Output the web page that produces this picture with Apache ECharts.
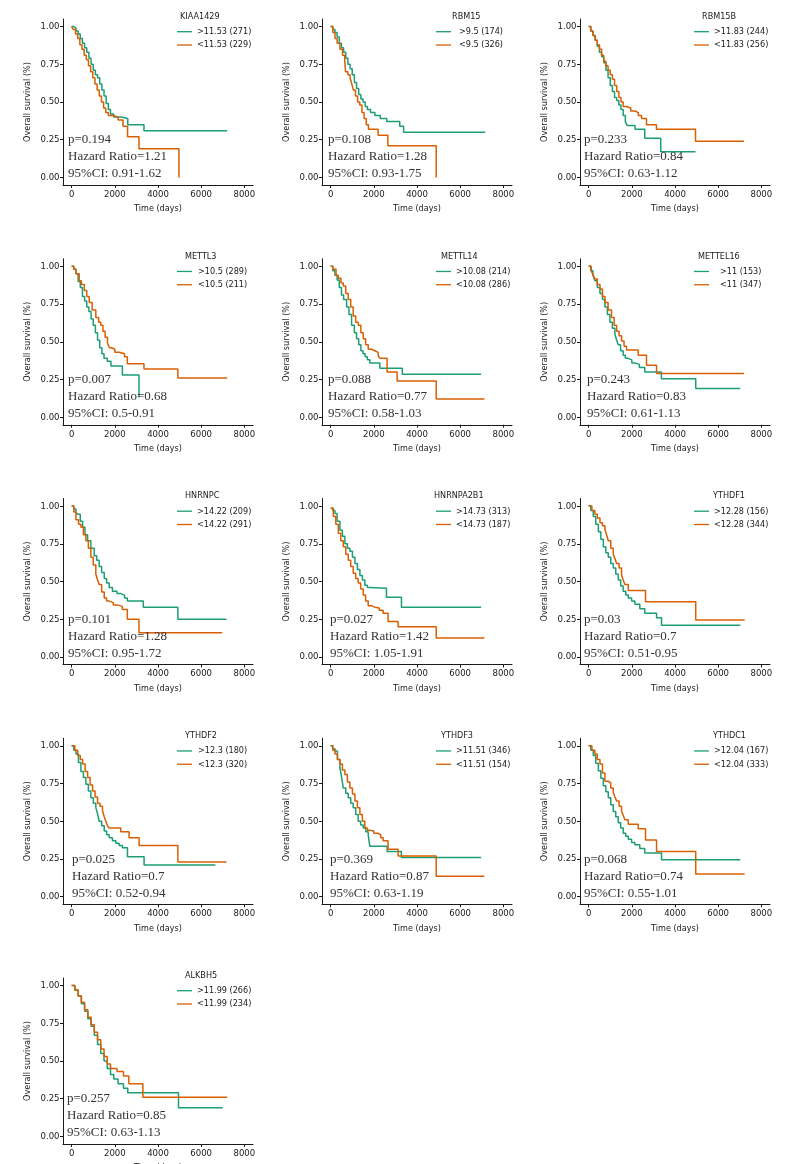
<!DOCTYPE html>
<html><head><meta charset="utf-8">
<script src="https://cdn.jsdelivr.net/npm/echarts@6/dist/echarts.min.js"></script>
<style>html,body{margin:0;padding:0;background:#fff}#c{width:792px;height:1164px}</style>
</head><body><div id="c"></div>
<script>
// ---------- DATA ----------
const genes = ['KIAA1429','RBM15','RBM15B','METTL3','METTL14','METTEL16','HNRNPC','HNRNPA2B1','YTHDF1','YTHDF2','YTHDF3','YTHDC1','ALKBH5'];
const highLabels = ['>11.53 (271)','>9.5 (174)','>11.83 (244)','>10.5 (289)','>10.08 (214)','>11 (153)','>14.22 (209)','>14.73 (313)','>12.28 (156)','>12.3 (180)','>11.51 (346)','>12.04 (167)','>11.99 (266)'];
const lowLabels = ['<11.53 (229)','<9.5 (326)','<11.83 (256)','<10.5 (211)','<10.08 (286)','<11 (347)','<14.22 (291)','<14.73 (187)','<12.28 (344)','<12.3 (320)','<11.51 (154)','<12.04 (333)','<11.99 (234)'];
const pValues = ['0.194','0.108','0.233','0.007','0.088','0.243','0.101','0.027','0.03','0.025','0.369','0.068','0.257'];
const hazardRatios = ['1.21','1.28','0.84','0.68','0.77','0.83','1.28','1.42','0.7','0.7','0.87','0.74','0.85'];
const ci95 = ['0.91-1.62','0.93-1.75','0.63-1.12','0.5-0.91','0.58-1.03','0.61-1.13','0.95-1.72','1.05-1.91','0.51-0.95','0.52-0.94','0.63-1.19','0.55-1.01','0.63-1.13'];
const xTicks = [0, 2000, 4000, 6000, 8000];
const yTicks = [0, 0.25, 0.5, 0.75, 1];

// survival curves [time (days), survival]
const kiaa1429Hi = [[0,1],[100,0.99],[200,0.97],[300,0.95],[400,0.92],[500,0.89],[600,0.86],[700,0.83],[800,0.79],[900,0.75],[1000,0.71],[1100,0.68],[1200,0.66],[1300,0.62],[1400,0.58],[1500,0.54],[1600,0.49],[1700,0.45],[1800,0.42],[1950,0.40],[2300,0.39],[2600,0.35],[3350,0.31],[7200,0.31]];
const kiaa1429Lo = [[0,1],[80,0.98],[180,0.95],[280,0.92],[380,0.88],[480,0.85],[580,0.81],[680,0.78],[780,0.74],[880,0.70],[980,0.66],[1080,0.62],[1180,0.58],[1280,0.54],[1380,0.50],[1480,0.46],[1580,0.43],[1700,0.41],[1900,0.40],[2150,0.38],[2380,0.34],[2590,0.27],[3120,0.19],[4970,0]];
const rbm15Hi = [[0,1],[100,0.98],[200,0.96],[300,0.93],[400,0.89],[500,0.86],[600,0.83],[700,0.79],[800,0.75],[900,0.72],[1000,0.68],[1100,0.63],[1200,0.59],[1300,0.55],[1400,0.52],[1500,0.50],[1600,0.47],[1700,0.45],[1850,0.43],[2050,0.41],[2300,0.39],[2600,0.37],[3200,0.34],[3380,0.30],[7170,0.30]];
const rbm15Lo = [[0,1],[100,0.96],[200,0.92],[300,0.89],[430,0.85],[550,0.81],[650,0.78],[690,0.70],[800,0.68],[900,0.66],[980,0.62],[1050,0.58],[1150,0.54],[1250,0.50],[1350,0.48],[1450,0.43],[1550,0.39],[1650,0.35],[1750,0.32],[2200,0.28],[2650,0.21],[4890,0]];
const rbm15bHi = [[0,1],[100,0.97],[200,0.94],[300,0.91],[400,0.87],[500,0.83],[600,0.80],[700,0.76],[800,0.71],[900,0.66],[1000,0.61],[1100,0.57],[1200,0.53],[1300,0.51],[1400,0.48],[1500,0.45],[1600,0.41],[1700,0.37],[1780,0.345],[2150,0.32],[2600,0.26],[3340,0.17],[4950,0.17]];
const rbm15bLo = [[0,1],[100,0.97],[200,0.94],[300,0.91],[400,0.88],[500,0.85],[600,0.81],[700,0.77],[800,0.74],[900,0.71],[1000,0.68],[1100,0.65],[1200,0.61],[1300,0.57],[1400,0.53],[1500,0.50],[1600,0.47],[1750,0.46],[1950,0.44],[2150,0.43],[2300,0.41],[2450,0.39],[2680,0.35],[3140,0.32],[4950,0.24],[7200,0.24]];
const mettl3Hi = [[0,1],[100,0.98],[200,0.95],[300,0.90],[400,0.86],[500,0.80],[600,0.77],[700,0.73],[800,0.70],[900,0.65],[1000,0.61],[1100,0.56],[1200,0.51],[1300,0.46],[1400,0.42],[1500,0.39],[1650,0.37],[1820,0.34],[2350,0.28],[3120,0.13]];
const mettl3Lo = [[0,1],[100,0.98],[200,0.95],[350,0.905],[450,0.88],[585,0.84],[700,0.80],[815,0.76],[950,0.71],[1120,0.66],[1250,0.63],[1350,0.61],[1450,0.57],[1550,0.53],[1660,0.49],[1750,0.46],[1850,0.45],[2000,0.43],[2200,0.42],[2450,0.40],[2580,0.355],[3350,0.32],[4920,0.26],[7200,0.26]];
const mettl14Hi = [[0,1],[100,0.97],[200,0.94],[300,0.91],[400,0.86],[500,0.81],[600,0.78],[740,0.73],[850,0.68],[970,0.61],[1100,0.56],[1200,0.52],[1300,0.48],[1400,0.44],[1500,0.42],[1600,0.40],[1700,0.38],[1815,0.36],[2280,0.325],[3320,0.285],[6970,0.285]];
const mettl14Lo = [[0,1],[100,0.98],[250,0.94],[350,0.92],[480,0.89],[585,0.87],[700,0.82],[815,0.78],[930,0.73],[1045,0.67],[1160,0.63],[1280,0.61],[1400,0.56],[1510,0.52],[1620,0.48],[1740,0.45],[1900,0.44],[2045,0.43],[2200,0.41],[2280,0.39],[2615,0.30],[3080,0.24],[4890,0.12],[7120,0.12]];
const mettl16Hi = [[0,1],[100,0.97],[200,0.94],[290,0.905],[400,0.86],[525,0.82],[640,0.78],[755,0.73],[870,0.68],[985,0.63],[1100,0.59],[1215,0.55],[1300,0.51],[1370,0.48],[1480,0.44],[1600,0.41],[1700,0.39],[1835,0.38],[2000,0.36],[2140,0.35],[2350,0.33],[2600,0.30],[3370,0.255],[4960,0.19],[7025,0.19]];
const mettl16Lo = [[0,1],[120,0.97],[200,0.945],[290,0.915],[400,0.88],[525,0.85],[640,0.80],[755,0.76],[900,0.71],[1060,0.66],[1180,0.61],[1295,0.57],[1410,0.54],[1525,0.505],[1640,0.47],[1755,0.445],[2295,0.41],[2680,0.345],[3145,0.29],[7200,0.29]];
const hnrnpcHi = [[0,1],[100,0.98],[200,0.96],[280,0.945],[400,0.90],[510,0.86],[620,0.81],[740,0.77],[890,0.72],[1045,0.67],[1160,0.64],[1275,0.60],[1390,0.56],[1510,0.52],[1620,0.49],[1740,0.46],[1890,0.435],[2100,0.42],[2275,0.41],[2450,0.39],[2580,0.37],[3320,0.33],[4920,0.25],[7170,0.25]];
const hnrnpcLo = [[0,1],[100,0.96],[200,0.91],[320,0.88],[430,0.86],[545,0.81],[660,0.77],[775,0.72],[890,0.66],[1000,0.61],[1120,0.55],[1200,0.51],[1275,0.48],[1390,0.43],[1510,0.39],[1620,0.37],[1740,0.36],[1930,0.345],[2120,0.335],[2350,0.315],[2580,0.25],[3120,0.16],[6970,0.16]];
const hnrnpa2b1Hi = [[0,0.985],[100,0.97],[200,0.95],[300,0.90],[430,0.84],[545,0.80],[660,0.75],[775,0.72],[890,0.70],[1010,0.66],[1125,0.62],[1240,0.58],[1355,0.54],[1470,0.51],[1585,0.475],[1700,0.46],[1815,0.455],[2585,0.395],[3280,0.33],[6970,0.33]];
const hnrnpa2b1Lo = [[0,0.985],[125,0.93],[240,0.88],[355,0.82],[470,0.77],[585,0.73],[700,0.68],[815,0.64],[930,0.60],[1045,0.555],[1160,0.52],[1275,0.49],[1390,0.45],[1510,0.41],[1620,0.37],[1740,0.34],[1900,0.33],[2045,0.325],[2250,0.31],[2430,0.29],[2660,0.235],[3125,0.20],[4890,0.125],[7120,0.125]];
const ythdf1Hi = [[0,1],[100,0.97],[215,0.93],[330,0.88],[450,0.83],[565,0.78],[680,0.73],[795,0.69],[910,0.66],[1025,0.62],[1140,0.59],[1255,0.55],[1370,0.51],[1485,0.47],[1600,0.435],[1720,0.41],[1835,0.39],[1990,0.37],[2140,0.35],[2370,0.32],[2600,0.29],[3145,0.26],[3375,0.21],[7025,0.21]];
const ythdf1Lo = [[0,1],[150,0.97],[290,0.945],[400,0.92],[525,0.89],[640,0.87],[755,0.845],[830,0.81],[910,0.77],[1025,0.72],[1140,0.68],[1220,0.65],[1295,0.62],[1410,0.59],[1525,0.545],[1600,0.51],[1680,0.48],[1835,0.44],[2635,0.365],[4960,0.245],[7225,0.245]];
const ythdf2Hi = [[0,1],[100,0.97],[200,0.945],[315,0.89],[430,0.83],[545,0.79],[660,0.745],[775,0.70],[890,0.655],[1005,0.62],[1120,0.59],[1200,0.55],[1275,0.50],[1390,0.47],[1510,0.435],[1620,0.41],[1740,0.39],[1890,0.37],[2045,0.355],[2200,0.34],[2350,0.325],[2585,0.265],[3355,0.21],[6660,0.21]];
const ythdf2Lo = [[0,1],[150,0.97],[280,0.935],[400,0.91],[510,0.88],[625,0.83],[740,0.79],[855,0.74],[970,0.70],[1085,0.66],[1200,0.62],[1315,0.60],[1430,0.57],[1510,0.53],[1585,0.50],[1660,0.47],[1740,0.455],[2275,0.43],[2660,0.39],[3125,0.34],[4920,0.23],[7170,0.23]];
const ythdf3Hi = [[0,1],[100,0.98],[200,0.965],[315,0.91],[430,0.855],[510,0.79],[585,0.72],[700,0.685],[815,0.655],[930,0.62],[1045,0.59],[1160,0.545],[1275,0.50],[1390,0.475],[1510,0.455],[1625,0.43],[1740,0.41],[1815,0.335],[2615,0.30],[3275,0.26],[6970,0.26]];
const ythdf3Lo = [[0,1],[100,0.97],[200,0.945],[315,0.91],[430,0.88],[545,0.84],[660,0.81],[775,0.76],[890,0.72],[1010,0.68],[1125,0.635],[1240,0.59],[1355,0.545],[1470,0.50],[1585,0.455],[1700,0.44],[1815,0.435],[2000,0.42],[2200,0.41],[2320,0.39],[2430,0.37],[2660,0.315],[3125,0.27],[4890,0.135],[7120,0.135]];
const ythdc1Hi = [[0,1],[100,0.97],[215,0.935],[330,0.885],[450,0.835],[565,0.785],[680,0.735],[795,0.695],[910,0.655],[1025,0.61],[1140,0.565],[1255,0.53],[1370,0.49],[1485,0.455],[1600,0.42],[1720,0.40],[1835,0.38],[1990,0.36],[2140,0.345],[2370,0.32],[2600,0.29],[3375,0.245],[7025,0.245]];
const ythdc1Lo = [[0,1],[150,0.97],[290,0.945],[400,0.91],[525,0.88],[640,0.82],[755,0.765],[910,0.755],[1025,0.72],[1140,0.69],[1220,0.66],[1295,0.635],[1410,0.60],[1525,0.565],[1600,0.54],[1680,0.51],[1835,0.48],[2295,0.45],[2635,0.375],[3145,0.30],[4960,0.15],[7225,0.15]];
const alkbh5Hi = [[0,1],[150,0.97],[300,0.93],[450,0.88],[600,0.83],[750,0.78],[900,0.73],[1050,0.67],[1200,0.61],[1350,0.55],[1500,0.50],[1650,0.45],[1800,0.41],[1950,0.38],[2150,0.35],[2400,0.32],[2600,0.29],[4950,0.19],[7000,0.19]];
const alkbh5Lo = [[0,1],[150,0.97],[300,0.93],[450,0.89],[600,0.84],[750,0.79],[900,0.74],[1050,0.69],[1200,0.64],[1350,0.58],[1500,0.53],[1650,0.48],[1800,0.45],[2100,0.43],[2400,0.40],[2650,0.35],[3300,0.26],[7200,0.26]];

const highCurves = [kiaa1429Hi, rbm15Hi, rbm15bHi, mettl3Hi, mettl14Hi, mettl16Hi, hnrnpcHi, hnrnpa2b1Hi, ythdf1Hi, ythdf2Hi, ythdf3Hi, ythdc1Hi, alkbh5Hi];
const lowCurves = [kiaa1429Lo, rbm15Lo, rbm15bLo, mettl3Lo, mettl14Lo, mettl16Lo, hnrnpcLo, hnrnpa2b1Lo, ythdf1Lo, ythdf2Lo, ythdf3Lo, ythdc1Lo, alkbh5Lo];

// ---------- LAYOUT / STYLE ----------
const SANS = "'DejaVu Sans Condensed', 'Liberation Sans Narrow', sans-serif";
const SERIF = "'Liberation Serif', 'Times New Roman', serif";
const GREEN = '#1B9E77', ORANGE = '#D95F02', INK = '#1a1a1a';
const FS = 9;
const colLeft = [63, 322, 580];
const rowTop = r => 19 + 239.75 * r;
const legendLeft = [177, 436, 694];
const titleX = [180, 452, 702, 185, 441, 698, 185, 434, 713, 185, 441, 713, 185];
const noteDx = [5, 6, 4, 5, 6, 7, 5, 8, 4, 9, 8, 4, 4];
const legendPad = [0, 3, 0, 1, 0, 6, 0, 0, 0, 1, 0, 0, 0];

const grid = [], xAxis = [], yAxis = [], series = [], legend = [], title = [];
genes.forEach((g, i) => {
  const col = i % 3, row = Math.floor(i / 3);
  const L = colLeft[col], T = rowTop(row);
  grid.push({left: L, top: T, width: 190, height: 166, containLabel: false, outerBoundsMode: 'none'});
  xAxis.push({
    type: 'value', gridIndex: i, min: -400, max: 8400,
    name: 'Time (days)', nameLocation: 'middle', nameGap: 19.5,
    nameTextStyle: {fontFamily: SANS, fontSize: FS, color: INK},
    axisLine: {onZero: false, lineStyle: {color: INK, width: 1}},
    axisTick: {customValues: xTicks, length: 3, lineStyle: {color: INK}},
    axisLabel: {customValues: xTicks, margin: 4.5, fontFamily: SANS, fontSize: 9.5, color: INK,
      formatter: v => String(v)},
    splitLine: {show: false}
  });
  yAxis.push({
    type: 'value', gridIndex: i, min: -0.05, max: 1.05,
    name: 'Overall survival (%)', nameLocation: 'middle', nameGap: 31, nameRotate: 90,
    nameTextStyle: {fontFamily: SANS, fontSize: FS, color: INK},
    axisLine: {onZero: false, lineStyle: {color: INK, width: 1}},
    axisTick: {customValues: yTicks, length: 3, lineStyle: {color: INK}},
    axisLabel: {customValues: yTicks, margin: 3.5, fontFamily: SANS, fontSize: 9.5, color: INK,
      formatter: v => v.toFixed(2)},
    splitLine: {show: false}
  });
  series.push({
    type: 'line', name: highLabels[i], xAxisIndex: i, yAxisIndex: i, data: highCurves[i],
    step: 'end', symbol: 'none', showSymbol: false, lineStyle: {color: GREEN, width: 1.5},
    itemStyle: {color: GREEN}, silent: true
  });
  series.push({
    type: 'line', name: lowLabels[i], xAxisIndex: i, yAxisIndex: i, data: lowCurves[i],
    step: 'end', symbol: 'none', showSymbol: false, lineStyle: {color: ORANGE, width: 1.5},
    itemStyle: {color: ORANGE}, silent: true
  });
  legend.push({
    data: [highLabels[i], lowLabels[i]], orient: 'vertical', left: legendLeft[col], top: T + 7.7,
    padding: 0, icon: 'rect', itemWidth: 15, itemHeight: 1.3, itemGap: 3.3, selectedMode: false,
    textStyle: {fontFamily: SANS, fontSize: FS, color: INK, lineHeight: 10, padding: [0, 0, 0, legendPad[i]]}
  });
  title.push({
    text: g, left: titleX[i], top: T - 8, padding: 0,
    textStyle: {fontFamily: SANS, fontSize: FS, fontWeight: 'normal', color: INK, lineHeight: 11}
  });
  title.push({
    text: 'p=' + pValues[i] + '\nHazard Ratio=' + hazardRatios[i] + '\n95%CI: ' + ci95[i],
    left: L + noteDx[i], top: T + 112.5, padding: 0,
    textStyle: {fontFamily: SERIF, fontSize: 13, fontWeight: 'normal', color: '#333', lineHeight: 17}
  });
});

const chart = echarts.init(document.getElementById('c'), null, {renderer: 'canvas'});
chart.setOption({animation: false, backgroundColor: '#fff', grid, xAxis, yAxis, series, legend, title});
</script></body></html>
